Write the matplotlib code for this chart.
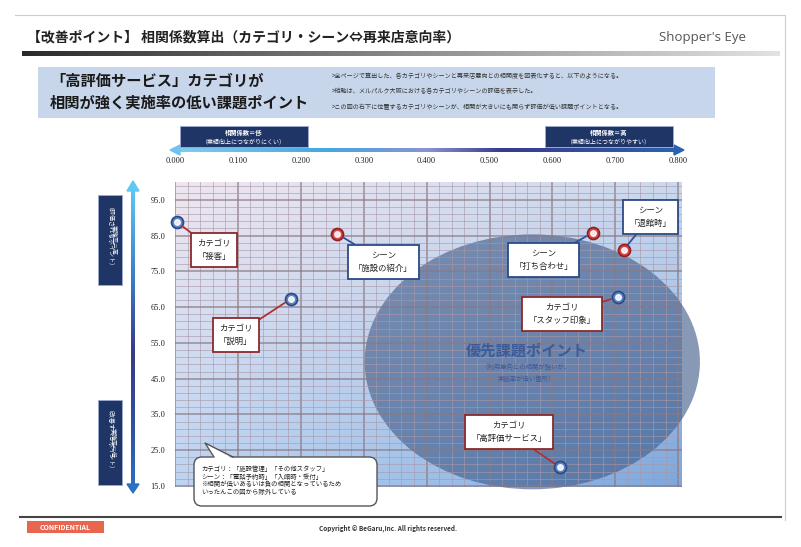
import numpy as np
import matplotlib
matplotlib.use('Agg')
import matplotlib.pyplot as plt
from matplotlib.colors import LinearSegmentedColormap, to_rgb
from matplotlib.patches import Rectangle, Ellipse, Polygon, FancyBboxPatch
from matplotlib.ticker import MultipleLocator

plt.rcParams['font.family'] = ['Noto Sans CJK JP', 'DejaVu Sans']

# --- data ---
names = ['カテゴリ\n「接客」', 'シーン\n「施設の紹介」', 'カテゴリ\n「説明」',
         'シーン\n「打ち合わせ」', 'シーン\n「退館時」', 'カテゴリ\n「スタッフ印象」',
         'カテゴリ\n「高評価サービス」']
kinds = ['cat', 'scene', 'cat', 'scene', 'scene', 'cat', 'cat']
corr = [0.003, 0.258, 0.184, 0.664, 0.713, 0.704, 0.612]
rate = [88.8, 85.5, 67.3, 85.8, 81.0, 67.8, 20.2]
x_ticks = [0.0, 0.1, 0.2, 0.3, 0.4, 0.5, 0.6, 0.7, 0.8]
x_labels = ['0.000', '0.100', '0.200', '0.300', '0.400', '0.500', '0.600', '0.700', '0.800']
y_ticks = [95, 85, 75, 65, 55, 45, 35, 25, 15]
y_labels = ['95.0', '85.0', '75.0', '65.0', '55.0', '45.0', '35.0', '25.0', '15.0']

# label offsets (pixels) for callouts
offsets = [(37, -28), (46, -28), (-55, -36), (-49, -27), (27, 33), (-56, -17), (-51, 35)]

W, H = 801, 547
fig = plt.figure(figsize=(W / 100, H / 100), dpi=100)

# main plot area
ax = fig.add_axes([175 / W, 1 - 487 / H, 507 / W, 305 / H], zorder=2)
ax.set_xlim(0, 0.806)
ax.set_ylim(14.7, 100)

# gradient background
tl, tr, bl, br = [np.array(to_rgb(c)) for c in ('#efe6ef', '#cad9ef', '#bcd5f3', '#7ea7dc')]
u = np.linspace(0, 1, 200)[None, :, None]
v = np.linspace(0, 1, 200)[:, None, None]
img = (1 - v) * ((1 - u) * tl + u * tr) + v * ((1 - u) * bl + u * br)
ax.imshow(img, extent=(0, 0.806, 14.7, 100), origin='upper', aspect='auto', zorder=0)

ax.xaxis.set_major_locator(MultipleLocator(0.1))
ax.xaxis.set_minor_locator(MultipleLocator(0.02))
ax.yaxis.set_major_locator(MultipleLocator(10, offset=5))
ax.yaxis.set_minor_locator(MultipleLocator(2, offset=1))
ax.set_axisbelow(False)
ax.grid(True, which='major', color='#8c7880', lw=1.1, alpha=0.8)
ax.grid(True, which='minor', color='#a898a8', lw=0.6, alpha=0.7)
ax.set_xticks(x_ticks, x_labels)
ax.set_yticks(y_ticks, y_labels)
ax.xaxis.tick_top()
ax.tick_params(axis='both', which='both', length=0)
ax.tick_params(axis='x', pad=12)
ax.tick_params(axis='y', pad=7)
for lab in ax.get_xticklabels() + ax.get_yticklabels():
    lab.set_fontfamily('Liberation Serif')
    lab.set_fontsize(6)
    lab.set_color('#222222')
for s in ax.spines.values():
    s.set_visible(False)

# priority ellipse
ell = Ellipse((0.568, 49.7), 0.533, 71.3, facecolor='#3f5a88', alpha=0.62,
              edgecolor='none', zorder=1, clip_on=False)
ax.add_patch(ell)
ax.text(0.559, 52.8, '優先課題ポイント', ha='center', va='center', fontsize=11,
        color='#3c5b98', fontweight='bold', zorder=3)
ax.text(0.559, 46.6, '（利用意向との相関が強いが、\n実施率が低い箇所）', ha='center', va='center',
        fontsize=4.6, color='#3c5b98', linespacing=1.6, zorder=3)

# points and callouts
for name, k, x, y, off in zip(names, kinds, corr, rate, offsets):
    if k == 'cat':
        fc, ec, border, line = '#5b82c4', '#2b4a82', '#8a2a2a', '#b03030'
    else:
        fc, ec, border, line = '#d84444', '#8e2020', '#2c4a86', '#3050a0'
    ax.scatter([x], [y], s=75, color=fc, edgecolors=ec, linewidths=1.2, zorder=5, clip_on=False)
    ax.scatter([x], [y], s=16, color='white', alpha=0.85, zorder=6, clip_on=False)
    ax.annotate(name, xy=(x, y), xytext=off, textcoords='offset pixels',
                ha='center', va='center', fontsize=6, linespacing=1.5, color='#222222',
                bbox=dict(boxstyle='square,pad=0.75', fc='white', ec=border, lw=1.3),
                arrowprops=dict(arrowstyle='-', color=line, lw=1.3, shrinkA=0, shrinkB=5),
                zorder=7, annotation_clip=False)

# overlay in pixel coordinates
ov = fig.add_axes([0, 0, 1, 1], zorder=5)
ov.patch.set_alpha(0)
ov.axis('off')

# page frame lines
ov.plot([15, 785], [15, 15], color='#cccccc', lw=0.8)
ov.plot([785, 785], [15, 520], color='#cccccc', lw=0.8)

# title
ov.text(27, 37, '【改善ポイント】 相関係数算出（カテゴリ・シーン⇔再来店意向率）', ha='left', va='center',
        fontsize=10, fontweight='bold', color='#222222')
ov.text(746, 37, "Shopper's Eye", ha='right', va='center', fontsize=9.5,
        color='#555555', family='Open Sans')
grey = LinearSegmentedColormap.from_list('g', ['#2a2a2a', '#8a8a8a', '#e2e2e2'])
ov.imshow(np.linspace(0, 1, 256)[None, :], cmap=grey, extent=(22, 780, 56, 51), aspect='auto')

# info box
ov.add_patch(Rectangle((38, 67), 677, 51, facecolor='#c7d6ea', edgecolor='none'))
ov.text(50, 81, '「高評価サービス」カテゴリが', ha='left', va='center', fontsize=11,
        fontweight='bold', color='#1a1a1a')
ov.text(50, 103, '相関が強く実施率の低い課題ポイント', ha='left', va='center', fontsize=11,
        fontweight='bold', color='#1a1a1a')
notes = ['>全ページで算出した、各カテゴリやシーンと再来店意向との相関度を図表化すると、以下のようになる。',
         '>縦軸は、メルパルク大阪における各カテゴリやシーンの評価を表示した。',
         '>この図の右下に位置するカテゴリやシーンが、相関が大きいにも関らず評価が低い課題ポイントとなる。']
for i, t in enumerate(notes):
    ov.text(332, 76 + 15.5 * i, t, ha='left', va='center', fontsize=4.4, color='#333333')

# horizontal arrow
hcm = LinearSegmentedColormap.from_list('h', [(0, '#80ccef'), (0.3, '#45a6e0'), (0.5, '#8c92d2'),
                                              (0.65, '#3a3a8c'), (1, '#2a62b2')])
ov.imshow(np.linspace(0, 1, 256)[None, :], cmap=hcm, extent=(178, 676, 152, 148), aspect='auto')
ov.add_patch(Polygon([(170, 150), (180, 145), (180, 155)], color='#6ec4ee'))
ov.add_patch(Polygon([(684, 150), (674, 145), (674, 155)], color='#2a62b2'))

# vertical arrow
vcm = LinearSegmentedColormap.from_list('v', [(0, '#5ec8f2'), (0.3, '#3a7cc8'), (0.55, '#3a3a84'),
                                              (0.8, '#3052a2'), (1, '#2a72c2')])
ov.imshow(np.linspace(0, 1, 256)[:, None], cmap=vcm, extent=(131, 135, 488, 188), aspect='auto')
ov.add_patch(Polygon([(133, 181), (127, 191), (139, 191)], color='#5ec8f2'))
ov.add_patch(Polygon([(133, 493), (127, 484), (139, 484)], color='#2a72c2'))

# navy label boxes
navy = '#1f3566'
for x0, t1, t2 in [(180, '相関係数＝低', '（業績向上につながりにくい）'),
                   (545, '相関係数＝高', '（業績向上につながりやすい）')]:
    ov.add_patch(Rectangle((x0, 126), 128, 21, facecolor=navy, edgecolor='#9aaad0', lw=0.6))
    ov.text(x0 + 64, 132, t1, ha='center', va='center', fontsize=4.5, color='white', fontweight='bold')
    ov.text(x0 + 64, 141, t2, ha='center', va='center', fontsize=4.3, color='white')
for y0, h, t in [(195, 90, '実施率＝高\n（評価されるポイント）'),
                 (400, 85, '実施率＝低\n（改善すべきポイント）')]:
    ov.add_patch(Rectangle((98, y0), 24, h, facecolor=navy, edgecolor='#9aaad0', lw=0.6))
    ov.text(110, y0 + h / 2, t, ha='center', va='center', rotation=270, fontsize=4.3,
            color='white', linespacing=1.3)

# note bubble
ov.add_patch(FancyBboxPatch((194, 457), 183, 49, boxstyle='round,pad=0,rounding_size=8',
                            facecolor='white', edgecolor='#555555', lw=1))
ov.add_patch(Polygon([(205, 443), (214, 458.5), (233, 458.5)], facecolor='white', edgecolor='none'))
ov.plot([214, 205, 233], [457, 443, 457], color='#555555', lw=1)
note_lines = ['カテゴリ：「施設管理」「その他スタッフ」', 'シーン：「電話予約時」「入館時・受付」',
              '※相関が低いあるいは負の相関となっているため', 'いったんこの図から除外している']
for i, t in enumerate(note_lines):
    ov.text(201, 469 + 7.6 * i, t, ha='left', va='center', fontsize=4.6, color='#222222')

# footer
ov.plot([20, 781], [517, 517], color='#444444', lw=1.5)
ov.add_patch(Rectangle((27, 521), 77, 12, facecolor='#e8654f', edgecolor='none'))
ov.text(65.5, 527, 'CONFIDENTIAL', ha='center', va='center', fontsize=5, color='white', fontweight='bold')
ov.text(388, 528, 'Copyright © BeGaru,Inc. All rights reserved.', ha='center', va='center',
        fontsize=4.6, color='#333333', fontweight='bold')

ov.set_xlim(0, W)
ov.set_ylim(H, 0)

fig.savefig('out.png', dpi=100, facecolor='white')
